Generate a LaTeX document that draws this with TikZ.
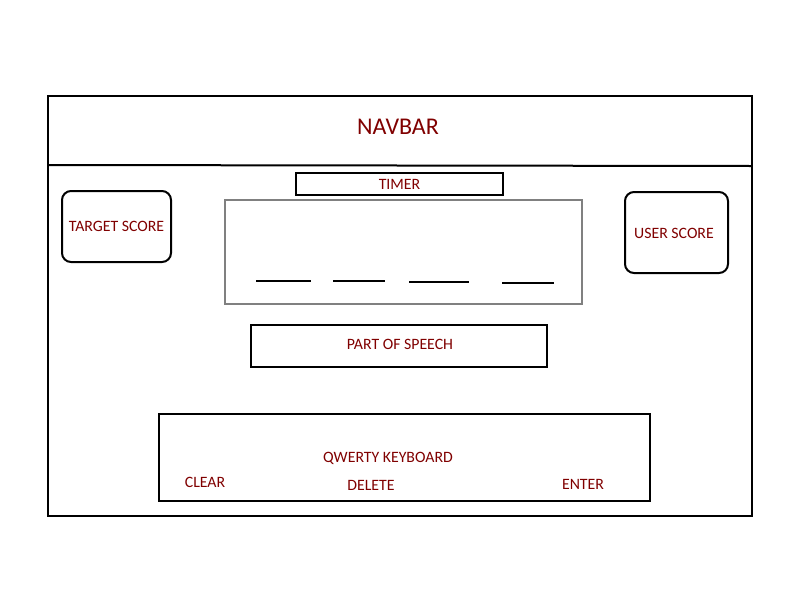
\documentclass[tikz,border=0pt]{standalone}
\usepackage{fontspec}
\setmainfont{Carlito}
\usetikzlibrary{calc,positioning}
\definecolor{labelred}{RGB}{128,0,0}
\definecolor{wordgray}{RGB}{128,128,128}

\begin{document}
\begin{tikzpicture}[
    x=1pt, y=-1pt,
    font=\fontsize{15.8}{19}\selectfont,
    frame/.style={draw, line width=2pt},
    panel/.style={draw, line width=2pt, inner sep=0pt},
    scorebox/.style={panel, rounded corners=9pt},
    wordbox/.style={draw=wordgray, line width=2pt, inner sep=0pt},
    lbl/.style={text=labelred, inner sep=0pt},
    blank/.style={line width=1.6pt}
]
  \useasboundingbox (0,0) rectangle (800,600);

  % outer frame and navbar strip
  \draw[frame] (48,96) rectangle (752,516);
  \coordinate (navleft) at (48,165);
  \coordinate (navright) at (752,166);
  \draw[frame] (navleft) -- (navright);
  \node[lbl, font=\fontsize{24}{28}\selectfont] (navbar) at (398,127) {NAVBAR};

  % timer
  \node[panel, minimum width=207pt, minimum height=22pt] (timer) at (399.5,184) {};
  \node[lbl] (timer-txt) at (timer.center) {TIMER};

  % scores
  \node[scorebox, minimum width=109pt, minimum height=71pt] (target) at (116.5,226.5) {};
  \node[lbl] (target-txt) at (target.center) {TARGET SCORE};
  \node[scorebox, minimum width=103pt, minimum height=81pt] (user) at (676.5,232.5) {};
  \node[lbl] (user-txt) at (674,233) {USER SCORE};

  % word to guess
  \node[wordbox, minimum width=357pt, minimum height=104pt] (word) at (403.5,252) {};
  \foreach \a/\b/\y in {256/311/281, 333/385/281, 409/469/282, 502/554/283} {
    \draw[blank] (\a,\y) -- (\b,\y);
  }

  % part of speech
  \node[panel, minimum width=296pt, minimum height=42pt] (pos) at (399,346) {};
  \node[lbl] (pos-txt) at (400,344) {PART OF SPEECH};

  % keyboard
  \node[panel, minimum width=491pt, minimum height=87pt] (keyboard) at (404.5,457.5) {};
  \node[lbl] (kb-txt) at (388,458) {QWERTY KEYBOARD};
  \node[lbl] (clear) at (205,482) {CLEAR};
  \node[lbl] (delete) at (371,485) {DELETE};
  \node[lbl] (enter) at (583,484) {ENTER};
\end{tikzpicture}
\end{document}
